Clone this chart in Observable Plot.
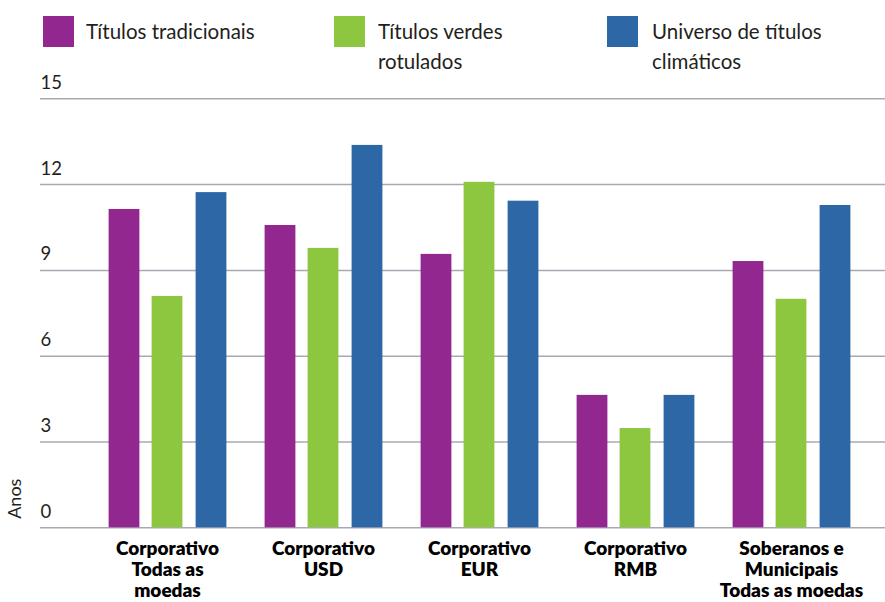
<!DOCTYPE html>
<html>
<head>
<meta charset="utf-8">
<script src="https://cdn.jsdelivr.net/npm/d3@7"></script>
<script src="https://cdn.jsdelivr.net/npm/@observablehq/plot@0.6"></script>
<style>
  html, body { margin: 0; padding: 0; background: #fff; }
  #wrap { width: 885px; font-family: Lato, "Open Sans", sans-serif; color: #231f20; }
  #legend { position: relative; height: 70px; }
  .sw { position: absolute; top: 16px; width: 31px; height: 31px; }
  .lt { position: absolute; top: 16px; font-size: 20.5px; line-height: 30px; white-space: pre-line; }
</style>
</head>
<body>
<div id="wrap">
  <div id="legend"></div>
  <div id="chart"></div>
</div>
<script>
const groups = [
  "Corporativo\nTodas as\nmoedas",
  "Corporativo\nUSD",
  "Corporativo\nEUR",
  "Corporativo\nRMB",
  "Soberanos e\nMunicipais\nTodas as moedas"
];
const seriesNames = ["Títulos tradicionais", "Títulos verdes\nrotulados", "Universo de títulos\nclimáticos"];
const tradicionais = [11.13, 10.57, 9.56, 4.63, 9.31];
const verdes = [8.09, 9.77, 12.08, 3.47, 7.99];
const universo = [11.72, 13.37, 11.42, 4.63, 11.27];
const yTicks = [0, 3, 6, 9, 12, 15];
const colors = ["#92278f", "#8dc63f", "#2e67a5"];

const seriesValues = [tradicionais, verdes, universo];
const data = groups.flatMap((g, i) => seriesNames.map((s, j) => ({group: g, series: s, value: seriesValues[j][i]})));

// legend
const legend = document.getElementById("legend");
const swLeft = [43, 334, 607];
const txLeft = [86, 378, 652];
seriesNames.forEach((s, j) => {
  const sw = document.createElement("div");
  sw.className = "sw"; sw.style.left = swLeft[j] + "px"; sw.style.background = colors[j];
  legend.appendChild(sw);
  const t = document.createElement("div");
  t.className = "lt"; t.style.left = txLeft[j] + "px"; t.textContent = s;
  legend.appendChild(t);
});

// bar placement inside each group band
const bandStep = (868.5 - 87.5) / groups.length;
const barW = 31;
const offsets = [-43, 0, 44];
const barMarks = seriesNames.map((s, j) => {
  const left = bandStep / 2 + offsets[j] - barW / 2;
  return Plot.barY(data.filter(d => d.series === s), {
    x: "group", y: "value", fill: colors[j],
    insetLeft: left, insetRight: bandStep - left - barW
  });
});

const chart = Plot.plot({
  width: 885,
  height: 532,
  marginTop: 28.3,
  marginBottom: 74.7,
  marginLeft: 40,
  marginRight: 0,
  style: {fontFamily: "Lato, 'Open Sans', sans-serif", color: "#231f20", background: "#fff", overflow: "visible"},
  x: {domain: groups, range: [88.5, 868.5], padding: 0, axis: null},
  y: {domain: [0, 15], axis: null},
  marks: [
    Plot.ruleY(yTicks, {stroke: "#a9a9b3", strokeWidth: 1.5}),
    ...barMarks,
    Plot.text(yTicks, {y: d => d, text: d => String(d), frameAnchor: "left", textAnchor: "start", lineAnchor: "bottom", dy: -10, fontSize: 18.5, fill: "#231f20"}),
    Plot.text(groups, {x: d => d, text: d => d, frameAnchor: "bottom", lineAnchor: "top", dy: 12.5, fontSize: 19, fontWeight: 800, lineHeight: 1.1, fill: "#000"}),
    Plot.text(["Anos"], {text: d => d, frameAnchor: "bottom-left", rotate: -90, textAnchor: "start", dx: -20, dy: -9, fontSize: 18, fill: "#231f20"})
  ]
});
document.getElementById("chart").appendChild(chart);
</script>
</body>
</html>
